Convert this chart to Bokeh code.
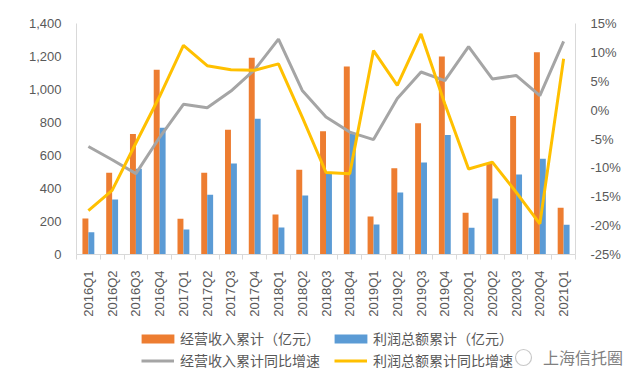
import math
from bokeh.plotting import figure
from bokeh.layouts import column
from bokeh.models import (ColumnDataSource, Range1d, LinearAxis, FixedTicker,
                          NumeralTickFormatter, PrintfTickFormatter, Legend,
                          LegendItem)
from bokeh.transform import dodge
from bokeh.embed import file_html
from bokeh.resources import INLINE

quarters = ["2016Q1", "2016Q2", "2016Q3", "2016Q4", "2017Q1", "2017Q2", "2017Q3",
            "2017Q4", "2018Q1", "2018Q2", "2018Q3", "2018Q4", "2019Q1", "2019Q2",
            "2019Q3", "2019Q4", "2020Q1", "2020Q2", "2020Q3", "2020Q4", "2021Q1"]
revenue = [218, 495, 731, 1119, 216, 495, 756, 1192, 242, 513, 747, 1139,
           230, 523, 796, 1200, 253, 551, 840, 1226, 283]
profit = [135, 333, 519, 768, 152, 362, 551, 822, 164, 358, 489, 733,
          182, 376, 557, 725, 162, 339, 485, 580, 180]
revenue_growth = [-6.3, -8.6, -11.0, -4.7, 1.0, 0.4, 3.3, 7.0, 12.3, 3.4, -1.2,
                  -3.8, -5.1, 2.0, 6.6, 5.1, 11.0, 5.4, 6.0, 2.5, 11.9]
profit_growth = [-17.4, -13.9, -5.7, 2.4, 11.2, 7.7, 7.0, 6.9, 8.0, -1.2, -10.8,
                 -11.0, 10.3, 4.3, 13.2, 1.1, -10.2, -9.0, -14.2, -19.7, 8.9]
left_ticks = [0, 200, 400, 600, 800, 1000, 1200, 1400]
right_ticks = [-25, -20, -15, -10, -5, 0, 5, 10, 15]
series_names = ["经营收入累计（亿元）", "利润总额累计（亿元）",
                "经营收入累计同比增速", "利润总额累计同比增速"]
watermark = "上海信托圈"

n = len(quarters)
idx = list(range(n))
src = ColumnDataSource(dict(x=idx, revenue=revenue, profit=profit,
                            rg=revenue_growth, pg=profit_growth))

ORANGE = "#ed7d31"
BLUE = "#5b9bd5"
GRAY = "#a5a5a5"
YELLOW = "#ffc000"
TXT = "#595959"
AX = "#d9d9d9"

p = figure(width=640, height=320, x_range=Range1d(-0.5, n - 0.5),
           y_range=Range1d(0, 1400), output_backend="svg", toolbar_location=None,
           min_border_left=76, min_border_right=65, min_border_top=23,
           min_border_bottom=66)
p.outline_line_color = None
p.xgrid.visible = False
p.ygrid.visible = False

# left axis
ya = p.yaxis[0]
ya.ticker = FixedTicker(ticks=left_ticks)
ya.formatter = NumeralTickFormatter(format="0,0")
ya.axis_line_color = AX
ya.major_tick_line_color = None
ya.minor_tick_line_color = None
ya.major_label_text_font = "Liberation Sans"
ya.major_label_text_font_size = "13px"
ya.major_label_text_color = TXT
ya.major_label_standoff = 9

# x axis
xa = p.xaxis[0]
xa.ticker = FixedTicker(ticks=idx, minor_ticks=[i - 0.5 for i in range(n + 1)])
xa.major_label_overrides = {i: q for i, q in enumerate(quarters)}
xa.major_label_orientation = math.pi / 2
xa.major_tick_line_color = None
xa.minor_tick_in = 0
xa.minor_tick_out = 5
xa.minor_tick_line_color = AX
xa.axis_line_color = AX
xa.major_label_text_font = "Liberation Sans"
xa.major_label_text_font_size = "13px"
xa.major_label_text_color = TXT
xa.major_label_standoff = 10

# right axis
p.extra_y_ranges = {"pct": Range1d(-25, 15)}
ra = LinearAxis(y_range_name="pct", ticker=FixedTicker(ticks=right_ticks),
                formatter=PrintfTickFormatter(format="%d%%"))
ra.axis_line_color = AX
ra.major_tick_line_color = None
ra.minor_tick_line_color = None
ra.major_label_text_font = "Liberation Sans"
ra.major_label_text_font_size = "13px"
ra.major_label_text_color = TXT
ra.major_label_standoff = 9
p.add_layout(ra, "right")

p.vbar(x=dodge("x", -0.125), top="revenue", width=0.25, source=src,
       fill_color=ORANGE, line_color=None)
p.vbar(x=dodge("x", 0.125), top="profit", width=0.25, source=src,
       fill_color=BLUE, line_color=None)
p.line(x="x", y="rg", source=src, y_range_name="pct", line_color=GRAY,
       line_width=3)
p.line(x="x", y="pg", source=src, y_range_name="pct", line_color=YELLOW,
       line_width=3)

# legend strip: same series drawn in a view that shows none of them,
# so only the legend swatches appear
q = figure(width=640, height=64, x_range=Range1d(-3, -2), y_range=Range1d(-3, -2),
           x_axis_type=None, y_axis_type=None, output_backend="svg",
           toolbar_location=None, min_border=0)
if "frame_align" in q.properties():
    q.frame_align = False
q.outline_line_color = None
q.xgrid.visible = False
q.ygrid.visible = False
k1 = q.vbar(x="x", top="revenue", width=0.25, source=src, fill_color=ORANGE,
            line_color=None)
k2 = q.vbar(x="x", top="profit", width=0.25, source=src, fill_color=BLUE,
            line_color=None)
k3 = q.line(x="x", y="rg", source=src, line_color=GRAY, line_width=3)
k4 = q.line(x="x", y="pg", source=src, line_color=YELLOW, line_width=3)
k5 = q.scatter(x="x", y="rg", source=src, marker="circle", fill_color=None,
               line_color="#c8c8c8", line_width=1.2)

common = dict(orientation="horizontal", padding=0, margin=0,
              border_line_color=None, background_fill_alpha=0,
              label_text_font_size="14px", label_text_font="Noto Sans CJK SC",
              label_text_color=TXT, label_height=20)
leg1 = Legend(items=[LegendItem(label=series_names[0], renderers=[k1]),
                     LegendItem(label=series_names[1], renderers=[k2])],
              location=(137, 36), glyph_width=41, glyph_height=11,
              label_standoff=2, spacing=10, **common)
leg2 = Legend(items=[LegendItem(label=series_names[2], renderers=[k3]),
                     LegendItem(label=series_names[3], renderers=[k4])],
              location=(141, 14), glyph_width=33, glyph_height=11,
              label_standoff=6, spacing=14, **common)
leg3 = Legend(items=[LegendItem(label=watermark, renderers=[k5])],
              location=(503, 7), glyph_width=40, glyph_height=40,
              label_standoff=0, orientation="horizontal", padding=0, margin=0,
              border_line_color=None, background_fill_alpha=0,
              label_text_font_size="16px", label_text_font="Noto Sans CJK SC",
              label_text_color="#808080", label_height=20)
q.add_layout(leg1)
q.add_layout(leg2)
q.add_layout(leg3)

layout = column(p, q, spacing=0)
open("out.html", "w").write(file_html(layout, INLINE))
